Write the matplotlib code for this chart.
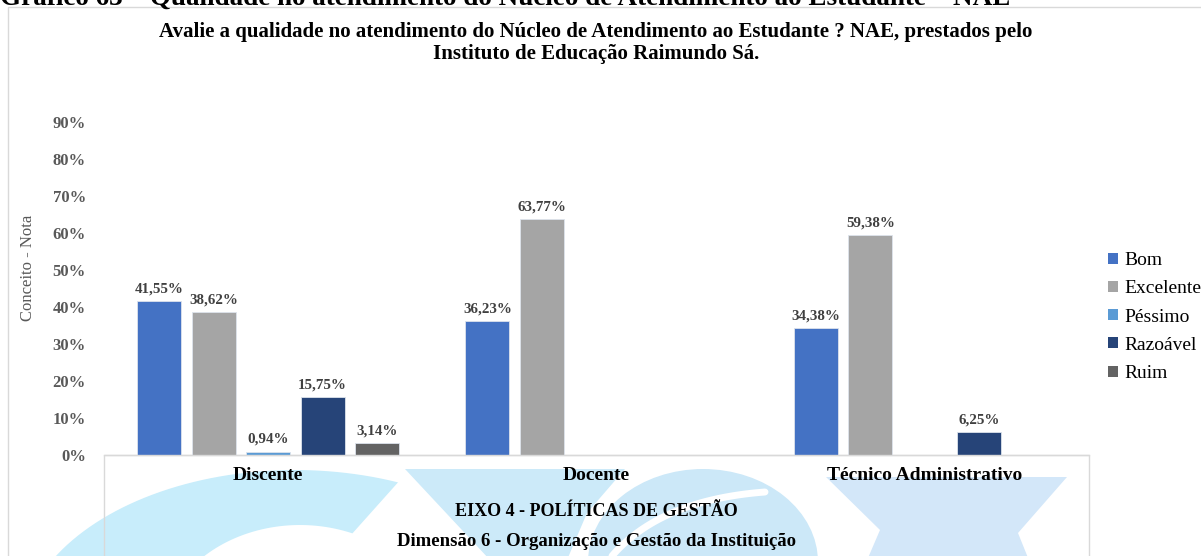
import matplotlib
matplotlib.use("Agg")
import matplotlib.pyplot as plt
import numpy as np
from matplotlib.patches import Polygon, Rectangle, Ellipse
from matplotlib.lines import Line2D

# ---------------- data ----------------
categories = ["Discente", "Docente", "Técnico Administrativo"]
series_names = ["Bom", "Excelente", "Péssimo", "Razoável", "Ruim"]
bom = [41.55, 36.23, 34.38]
excelente = [38.62, 63.77, 59.38]
pessimo = [0.94, None, None]
razoavel = [15.75, None, 6.25]
ruim = [3.14, None, None]
series_values = [bom, excelente, pessimo, razoavel, ruim]
colors = ["#4472C4", "#A5A5A5", "#5B9BD5", "#264478", "#636363"]
yticks = [0, 10, 20, 30, 40, 50, 60, 70, 80, 90]

title = ("Avalie a qualidade no atendimento do Núcleo de Atendimento ao Estudante ? NAE, prestados pelo\n"
         "Instituto de Educação Raimundo Sá.")
top_cut = "Gráfico 63 – Qualidade no atendimento do Núcleo de Atendimento ao Estudante – NAE"
ylabel = "Conceito - Nota"
xlabel1 = "EIXO 4 - POLÍTICAS DE GESTÃO"
xlabel2 = "Dimensão 6 - Organização e Gestão da Instituição"

W, H = 1201, 556
plt.rcParams['font.family'] = ['Liberation Serif', 'DejaVu Serif']
fig = plt.figure(figsize=(W / 100, H / 100), dpi=100)
fig.patch.set_facecolor("white")


def P(x, y):
    return (x / W, 1 - y / H)


# ---------------- watermark (decorative logo) ----------------
def ell_pts(cx, cy, rx, ry, a0, a1, n=60):
    t = np.radians(np.linspace(a0, a1, n))
    return [P(cx + rx * np.cos(tt), cy - ry * np.sin(tt)) for tt in t]

outer = ell_pts(295, 640, 275, 170, 180, 68)
inner = ell_pts(300, 640, 140, 115, 68, 180)
fig.add_artist(Polygon(outer + inner, closed=True, transform=fig.transFigure,
                       facecolor="#C8EDFB", edgecolor="none", zorder=-5))
band = [P(405, 469), P(625, 469), P(587, 513), P(567, 560), P(490, 560)]
fig.add_artist(Polygon(band, closed=True, transform=fig.transFigure,
                       facecolor="#CCEAF9", edgecolor="none", zorder=-5))
gx, gy = P(703, 562)
fig.add_artist(Ellipse((gx, gy), 230 / W, 186 / H, transform=fig.transFigure,
                       facecolor="#CCE8F8", edgecolor="none", zorder=-5))
tt = np.linspace(0, 1, 40)
cx_ = (1 - tt) ** 2 * 612 + 2 * (1 - tt) * tt * 660 + tt ** 2 * 765
cy_ = (1 - tt) ** 2 * 556 + 2 * (1 - tt) * tt * 500 + tt ** 2 * 492
fig.add_artist(Line2D(cx_ / W, 1 - cy_ / H, transform=fig.transFigure,
                      color="white", lw=5, zorder=-4, solid_capstyle="round"))
xshape = [P(826, 477), P(1067, 477), P(1018, 533), P(1045, 600), P(850, 600), P(880, 530)]
fig.add_artist(Polygon(xshape, closed=True, transform=fig.transFigure,
                       facecolor="#D3E7F9", edgecolor="none", zorder=-5))

# frames
fig.add_artist(Rectangle(P(8, 600), (1300 - 8) / W, (600 - 7) / H, transform=fig.transFigure,
                         facecolor="none", edgecolor="#D9D9D9", lw=1.0, zorder=-3))
fig.add_artist(Rectangle(P(104, 600), (1089 - 104) / W, (600 - 455) / H, transform=fig.transFigure,
                         facecolor="none", edgecolor="#D9D9D9", lw=1.0, zorder=-3))

# ---------------- axes ----------------
left, right = 104 / W, 1089 / W
bottom, top = 1 - 455 / H, 1 - 121.7 / H
ax = fig.add_axes([left, bottom, right - left, top - bottom])
ax.set_facecolor("none")

x = np.arange(len(categories))
n = len(series_names)
pitch = 0.166
width = 0.134
for i, (name, vals, col) in enumerate(zip(series_names, series_values, colors)):
    xs, vs = [], []
    for j, v in enumerate(vals):
        if v is not None:
            xs.append(x[j] + (i - (n - 1) / 2) * pitch)
            vs.append(v / 100)
    bars = ax.bar(xs, vs, width=width, color=col, label=name,
                  edgecolor="#DDE3EC", linewidth=0.6, zorder=2)
    for b, v in zip(bars, vs):
        ax.annotate(f"{v * 100:.2f}%".replace(".", ","),
                    (b.get_x() + b.get_width() / 2, b.get_height()),
                    xytext=(0, 4), textcoords="offset points",
                    ha="center", va="bottom", fontsize=10.8, fontweight="bold",
                    color="#404040")

ax.set_xlim(-0.5, len(categories) - 0.5)
ax.set_ylim(0, 0.9)
ax.set_yticks([t / 100 for t in yticks])
ax.set_yticklabels([f"{t}%" for t in yticks], fontsize=12, fontweight="bold", color="#595959")
ax.set_xticks(x)
ax.set_xticklabels(categories, fontsize=14, fontweight="bold", color="black")
ax.tick_params(axis="y", length=0, pad=13)
ax.tick_params(axis="x", length=0, pad=9)
for s in ["top", "right", "left"]:
    ax.spines[s].set_visible(False)
ax.spines["bottom"].set_color("#D9D9D9")
ax.spines["bottom"].set_linewidth(1.0)

ax.set_ylabel(ylabel, fontsize=12, color="#595959")
ax.yaxis.set_label_coords(-(104 - 36) / (1089 - 104), (455 - 268) / (455 - 121.7),
                          transform=ax.transAxes)

# titles
fig.text(596 / W, 1 - 43 / H, title, ha="center", va="center", fontsize=15,
         fontweight="bold", color="black", linespacing=1.08)
fig.text(0 / W, 1 - 5 / H, top_cut, ha="left", va="baseline", fontsize=19.5,
         fontweight="bold", color="black")
fig.text(596.5 / W, 1 - 511 / H, xlabel1, ha="center", va="center", fontsize=13,
         fontweight="bold", color="black")
fig.text(596.5 / W, 1 - 541 / H, xlabel2, ha="center", va="center", fontsize=13.5,
         fontweight="bold", color="black")

leg = ax.legend(loc="upper left", bbox_to_anchor=(1108 / W, 1 - 252 / H),
                bbox_transform=fig.transFigure, frameon=False, fontsize=14,
                handlelength=0.5, handleheight=0.5, handletextpad=0.35,
                labelspacing=0.58, borderaxespad=0, borderpad=0)
for h in leg.legend_handles:
    h.set_edgecolor("none")

fig.savefig("out.png", dpi=100)
